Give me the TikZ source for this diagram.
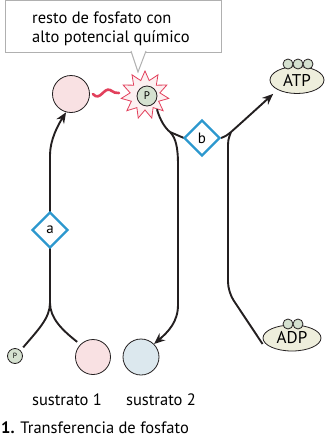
\documentclass[tikz,border=0pt]{standalone}
\usepackage{fontspec}
\setmainfont{PT Sans}
\usetikzlibrary{shapes.geometric,arrows.meta}
\definecolor{dk}{HTML}{231F20}
\definecolor{dblue}{HTML}{2C98CE}
\definecolor{pinkf}{HTML}{F9E1E3}
\definecolor{bluef}{HTML}{DCE8EE}
\definecolor{redw}{HTML}{E2405C}
\definecolor{pgreen}{HTML}{D5E1D0}
\definecolor{ovalf}{HTML}{EEEEDC}
\definecolor{boxg}{HTML}{B0B0B0}
\begin{document}
\begin{tikzpicture}[x=1pt,y=-1pt,
  flow/.style={draw=dk,line width=1.9pt},
  arr/.style={-{Stealth[length=11pt,width=9pt]}},
  enz/.style={diamond,draw=dblue,line width=2.2pt,fill=white,minimum size=36pt,inner sep=0pt,font=\fontsize{15}{15}\selectfont},
  mol/.style={circle,draw=dk,line width=0.8pt,minimum size=35pt,inner sep=0pt},
  phos/.style={circle,draw=dk,line width=0.8pt,fill=pgreen,inner sep=0pt},
  oval/.style={ellipse,draw=dk,line width=0.8pt,fill=ovalf,minimum width=54pt,minimum height=27pt,inner sep=0pt,font=\fontsize{17}{17}\selectfont},
  lab/.style={font=\fontsize{16.5}{19}\selectfont},
]
\useasboundingbox (0,0) rectangle (325,437);

% callout
\node[draw=boxg,line width=1pt,fill=white,minimum width=216pt,minimum height=52pt,inner sep=0pt] (callout) at (113.5,26) {};
\node[lab,anchor=west,align=left,inner sep=0pt] (ctext) at (32,29) {resto de fosfato con\\alto potencial químico};
\draw[boxg,line width=1pt,fill=white] (131,51) -- (138,72) -- (146,51);

% molecules
\node[mol,fill=pinkf,minimum size=37pt] (top) at (71,94) {};
\node[star,star points=11,star point ratio=1.6,minimum size=48pt,draw=redw,fill=pinkf!50,line width=0.8pt,inner sep=0pt] (star) at (145,95) {};
\node[phos,minimum size=20pt,font=\fontsize{11}{11}\selectfont] (P) at (147,96) {P};
\draw[redw,line width=2.6pt,line cap=round] ([xshift=3pt]top.east) .. controls (100,102) and (104,87) .. (110,90) .. controls (114,92) and (116,94) .. (119,93);

\node[mol,fill=pinkf] (s1) at (93,357) {};
\node[mol,fill=bluef,minimum size=36pt] (s2) at (141,357) {};
\node[phos,minimum size=15pt,font=\fontsize{7.5}{7.5}\selectfont] (pS) at (15,356) {P};

\node[oval] (ATP) at (297,80) {ATP};
\foreach \i/\x in {1/288,2/298,3/308}
  \node[phos,minimum size=10pt] (ta\i) at (\x,64) {};
\node[oval,minimum width=58pt,minimum height=26pt] (ADP) at (292,338) {ADP};
\foreach \i/\x in {1/288,2/298}
  \node[phos,minimum size=10pt] (da\i) at (\x,324) {};

% left pathway
\coordinate (fork) at (50,303);
\draw[flow,shorten <=4pt] (pS.north east) .. controls (38,330) and (50,318) .. (fork);
\draw[flow,shorten <=4pt] (s1.north west) .. controls (62,330) and (50,318) .. (fork);
\draw[flow,arr] (fork) -- (50,155) .. controls (50,140) and (58,125) .. (top.255);
\node[enz] (a) at (50,230) {a};

% middle pathway
\coordinate (jl) at (170,132);
\coordinate (jr) at (231,132);
\draw[flow] (star.-50) .. controls (160,120) and (165,128) .. (jl);
\draw[flow,arr] (jl) .. controls (176,138) and (178,148) .. (178,165) -- (178,305) .. controls (178,322) and (168,332) .. (s2.north east);
\draw[flow] (jl) .. controls (177,134) .. (184,138);
% right pathway
\draw[flow] (221,138) .. controls (226,136) .. (jr);
\draw[flow,arr,shorten >=6pt] (jr) .. controls (240,124) .. (ATP.south west);
\draw[flow,rounded corners=10pt] (jr) .. controls (228,140) .. (228,160) -- (228,292) -- ([yshift=-6pt]ADP.west);
\node[enz] (b) at (202,138) {b};

% labels
\node[lab] (l1) at (67,400) {sustrato 1};
\node[lab] (l2) at (161,400) {sustrato 2};
\node[lab,anchor=west,inner sep=0pt] (cap) at (1,428) {\textbf{1.} Transferencia de fosfato};
\end{tikzpicture}
\end{document}
